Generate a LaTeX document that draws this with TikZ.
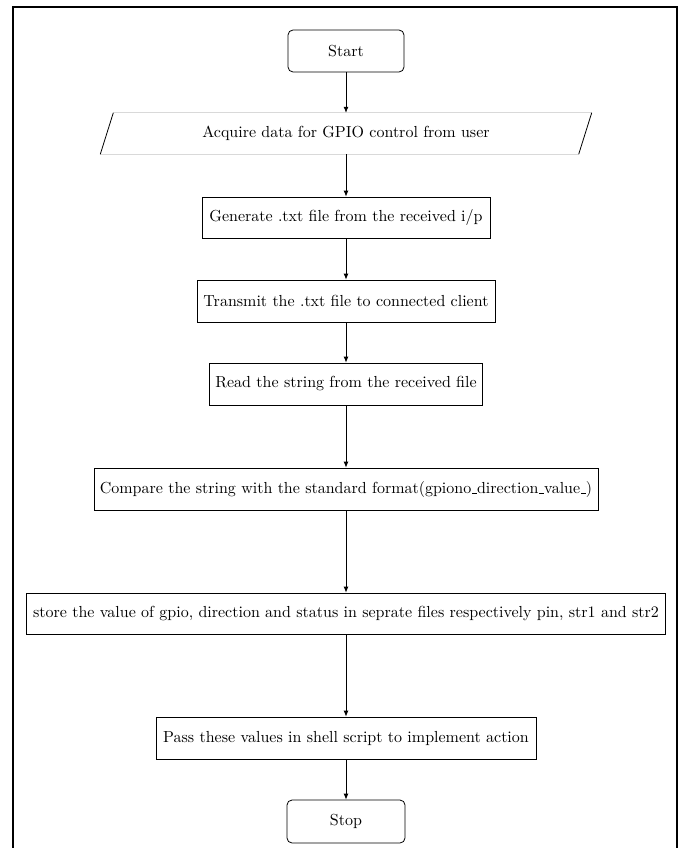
\documentclass[tikz,border=0pt]{standalone}
\usepackage{fontspec}
\setmainfont{lmroman10-regular.otf}
\usetikzlibrary{arrows.meta}
\newcommand\unterstrich{\leavevmode\kern.06em\vbox{\hrule width .3em}}

\begin{document}
\begin{tikzpicture}[x=1pt, y=-1pt,
  font=\fontsize{16}{19}\selectfont,
  box/.style={draw, line width=0.8pt, minimum height=42pt, inner sep=0pt},
  term/.style={box, rounded corners=5pt},
  pfeil/.style={-{Latex[length=6pt,width=5pt]}, line width=0.8pt}]
  \useasboundingbox (0,0) rectangle (682,848);

  % Rahmen
  \draw[line width=2.4pt] (13,848) -- (13,7) -- (677,7) -- (677,848);

  % Knoten
  \node[term, minimum width=116pt] (start) at (346,51) {Start};
  \node[inner sep=0pt, minimum width=478pt, minimum height=41pt] (input) at (346,133.5)
    {Acquire data for GPIO control from user};
  \node[box, minimum width=288pt, minimum height=41pt] (gen) at (346,217.5)
    {Generate .txt file from the received i/p};
  \node[box, minimum width=298pt] (trans) at (346,301)
    {Transmit the .txt file to connected client};
  \node[box, minimum width=273pt] (read) at (346,384)
    {Read the string from the received file};
  \node[box, minimum width=504pt] (comp) at (346,489)
    {Compare the string with the standard format(gpiono\unterstrich direction\unterstrich value\unterstrich)};
  \node[box, minimum width=639pt, minimum height=41pt] (store) at (346,613.5)
    {store the value of gpio, direction and status in seprate files respectively pin, str1 and str2};
  \node[box, minimum width=380pt] (pass) at (346,738)
    {Pass these values in shell script to implement action};
  \node[term, minimum width=118pt, minimum height=43pt] (stop) at (346,821.5) {Stop};

  % Eingabe (Parallelogramm)
  \draw[gray!30, line width=0.6pt] ([xshift=-6.5pt]input.south west) -- ([xshift=-6.5pt]input.south east)
    ([xshift=6.5pt]input.north west) -- ([xshift=6.5pt]input.north east);
  \draw[line width=0.8pt] ([xshift=-6.5pt]input.south west) -- ([xshift=6.5pt]input.north west);
  \draw[line width=0.8pt] ([xshift=-6.5pt]input.south east) -- ([xshift=6.5pt]input.north east);

  % Pfeile
  \draw[pfeil] (start) -- (input);
  \draw[pfeil] (input) -- (gen);
  \draw[pfeil] (gen) -- (trans);
  \draw[pfeil] (trans) -- (read);
  \draw[pfeil] (read) -- (comp);
  \draw[pfeil] (comp) -- (store);
  \draw[pfeil] (store) -- (pass);
  \draw[pfeil] (pass) -- (stop);
\end{tikzpicture}
\end{document}
